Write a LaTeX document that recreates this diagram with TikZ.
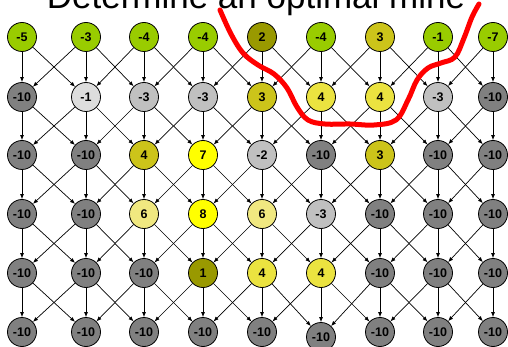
\documentclass[tikz,border=0pt]{standalone}
\usepackage{fontspec}
\setmainfont{Liberation Sans}
\usetikzlibrary{arrows.meta}
\definecolor{cG}{RGB}{153,204,0}
\definecolor{cD}{RGB}{128,128,128}
\definecolor{cL}{RGB}{221,221,221}
\definecolor{cM}{RGB}{192,192,192}
\definecolor{cO}{RGB}{153,153,0}
\definecolor{cT}{RGB}{204,196,26}
\definecolor{cF}{RGB}{235,227,64}
\definecolor{cY}{RGB}{255,255,0}
\definecolor{cP}{RGB}{240,232,128}
\tikzset{
  nd/.style={circle,draw=black,line width=0.8pt,minimum size=29pt,inner sep=0pt,
    font=\bfseries\fontsize{12.5}{14}\selectfont},
  arr/.style={line width=0.7pt,-{Latex[length=5pt,width=4pt]}},
  mineline/.style={red,line width=5pt,line cap=round,line join=round}
}
\begin{document}
\begin{tikzpicture}[x=1pt,y=-1pt]
\useasboundingbox (0,0) rectangle (508,347);
\node[anchor=base,font=\fontsize{35}{40}\selectfont,inner sep=0pt] (title) at (256,9) {Determine an optimal mine};
% row 1
\foreach \x/\v/\f [count=\i] in {22/-5/cG,86/-3/cG,144/-4/cG,203/-4/cG,262/2/cO,321/-4/cG,380/3/cT,438/-1/cG,493/-7/cG}
  \node[nd,fill=\f] (n1-\i) at (\x,37) {\v};
% row 2
\foreach \x/\v/\f [count=\i] in {22/-10/cD,86/-1/cL,144/-3/cM,203/-3/cM,262/3/cT,321/4/cF,380/4/cF,438/-3/cM,493/-10/cD}
  \node[nd,fill=\f] (n2-\i) at (\x,97) {\v};
% row 3
\foreach \x/\v/\f [count=\i] in {22/-10/cD,86/-10/cD,144/4/cT,203/7/cY,262/-2/cM,321/-10/cD,380/3/cT,438/-10/cD,493/-10/cD}
  \node[nd,fill=\f] (n3-\i) at (\x,155) {\v};
% row 4
\foreach \x/\v/\f [count=\i] in {22/-10/cD,86/-10/cD,144/6/cP,203/8/cY,262/6/cP,321/-3/cM,380/-10/cD,438/-10/cD,493/-10/cD}
  \node[nd,fill=\f] (n4-\i) at (\x,214) {\v};
% row 5
\foreach \x/\v/\f [count=\i] in {22/-10/cD,86/-10/cD,144/-10/cD,203/1/cO,262/4/cF,321/4/cF,380/-10/cD,438/-10/cD,493/-10/cD}
  \node[nd,fill=\f] (n5-\i) at (\x,273) {\v};
% row 6
\foreach \x/\y [count=\i] in {22/332,86/332,144/332,203/332,262/332,321/337,380/332,438/332,493/332}
  \node[nd,fill=cD] (n6-\i) at (\x,\y) {-10};
% arrows
\foreach \r in {1,...,5}{
  \pgfmathtruncatemacro{\rn}{\r+1}
  \foreach \i in {1,...,9}{
    \pgfmathtruncatemacro{\il}{\i-1}
    \pgfmathtruncatemacro{\ir}{\i+1}
    \draw[arr] (n\r-\i) -- (n\rn-\i);
    \ifnum\i>1 \draw[arr] (n\r-\i) -- (n\rn-\il); \fi
    \ifnum\i<9 \draw[arr] (n\r-\i) -- (n\rn-\ir); \fi
  }
}
% red line
\draw[mineline] plot[smooth,tension=0.6] coordinates {(220,10) (231,34) (243,53) (258,65) (274,74) (287,88) (297,107) (308,120) (325,124) (350,124) (374,125) (396,120) (408,100) (417,80) (428,68) (441,63) (455,57) (464,38) (472,17) (479,4)};
\end{tikzpicture}
\end{document}
